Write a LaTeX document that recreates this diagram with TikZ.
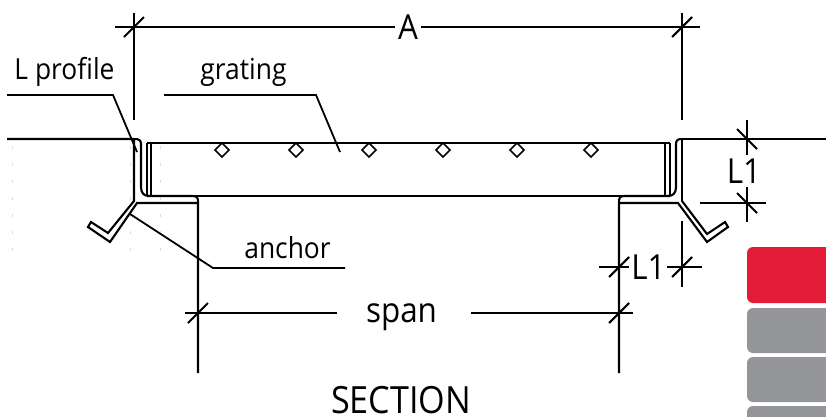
\documentclass[tikz,border=0pt]{standalone}
\usepackage{fontspec}
\setmainfont[FakeStretch=0.91]{Open Sans}
\usetikzlibrary{positioning,calc}
\definecolor{tabred}{HTML}{E31B37}
\definecolor{tabgray}{HTML}{939598}
\tikzset{main line/.style={line width=2.1pt,line join=miter},
  dim line/.style={line width=2.1pt},
  lead line/.style={line width=1.8pt,line join=miter},
  thin mark/.style={line width=0.8pt,black!14,dash pattern=on 3pt off 14pt},
  lbl/.style={inner sep=0pt,anchor=base,font=\fontsize{29}{32}\selectfont},
  dim lbl/.style={inner sep=0pt,anchor=base,font=\fontsize{34.5}{38}\selectfont},
  tab/.style={draw=none,rounded corners=6pt}}
\newcommand{\dimtick}[1]{\draw[dim line] ($(#1)+(-10,10)$) -- ($(#1)+(10,-10)$);}
\begin{document}
\begin{tikzpicture}[x=1pt,y=-1pt]
      \useasboundingbox (0,0) rectangle (826,416);
      \clip (0,0) rectangle (826,416);
      % faint marks
      \foreach \x in {12,130,160}
        \draw[thin mark] (\x,146) -- (\x,262);
      % side tabs
      \fill[tabred,tab] (747,247) rectangle (846,303);
      \fill[tabgray,tab] (747,308) rectangle (846,353);
      \fill[tabgray,tab] (747,357) rectangle (846,402);
      \fill[tabgray,tab] (747,406) rectangle (846,450);
      % labels
      \node[dim lbl] (a) at (408,39) {A};
      \node[lbl] (lprofile) at (64.5,79) {L profile};
      \node[lbl] (grating) at (243.5,79) {grating};
      \node[lbl] (anchor) at (287.5,258) {anchor};
      \node[dim lbl] (l1r) at (744,183) {L1};
      \node[dim lbl] (l1b) at (648.5,279) {L1};
      \node[dim lbl] (span) at (401.5,322) {span};
      \node[dim lbl,font=\fontsize{37.5}{40}\selectfont] (section) at (401,413) {SECTION};
      % grating
      \draw[main line] (147,143) -- (670,143);
      \draw[main line] (147,196) -- (670,196);
      \foreach \x in {147,151,665,670}
        \draw[main line] (\x,143) -- (\x,196);
      \foreach \x in {222,296,369,443,517,591}
        \draw[line width=1.6pt] (\x-7,150) -- (\x,143) -- (\x+7,150) -- (\x,157) -- cycle;
      % left profile
      \draw[main line] (7,139) -- (134,139) .. controls (139,139) and (141,140) .. (141,144)
        -- (141,187) .. controls (141,193) and (144,196) .. (149,196);
      \draw[main line] (134,139) -- (134,201) -- (108,233) -- (91,222) -- (88,227) -- (110,242) -- (137,203) -- (197,203);
      \draw[main line] (147,196) -- (192,196) .. controls (196,196) and (198,197) .. (198,201) -- (198,373);
      % right profile
      \draw[main line] (826,139) -- (682,139) -- (682,202);
      \draw[main line] (682,139) .. controls (678,139) and (676,140) .. (676,144)
        -- (676,187) .. controls (676,193) and (673,196) .. (668,196);
      \draw[main line] (619,203) -- (678,203) -- (707,242) -- (728,227) -- (725,222) -- (707,234) -- (682,201);
      \draw[main line] (670,196) -- (625,196) .. controls (621,196) and (619,197) .. (619,201) -- (619,373);
      % leaders
      \coordinate (lpa) at (7,95);
      \coordinate (lpb) at (113,95);
      \coordinate (lpc) at (137,152);
      \draw[lead line] (lpa) -- (lpb) -- (lpc);
      \coordinate (gra) at (164,95);
      \coordinate (grb) at (316,95);
      \coordinate (grc) at (340,152);
      \draw[lead line] (gra) -- (grb) -- (grc);
      \coordinate (ana) at (130,214);
      \coordinate (anb) at (213,268);
      \coordinate (anc) at (345,268);
      \draw[lead line] (ana) -- (anb) -- (anc);
      % dimension A
      \coordinate (al) at (134,27);
      \coordinate (ar) at (682,27);
      \draw[dim line] (115,27) -- (al) -- (395,27);
      \draw[dim line] (421,27) -- (ar) -- (700,27);
      \draw[dim line] (134,13) -- (134,120);
      \draw[dim line] (682,13) -- (682,120);
      \dimtick{al} \dimtick{ar}
      % dimension L1 right
      \coordinate (rt) at (747,139);
      \coordinate (rb) at (747,203);
      \draw[dim line] (747,120) -- (rt) -- (747,155);
      \draw[dim line] (747,187) -- (rb) -- (747,222);
      \draw[dim line] (700,203) -- (rb) -- (766,203);
      \draw[dim line] ($(rt)+(-10,-10)$) -- ($(rt)+(10,10)$);
      \draw[dim line] ($(rb)+(-10,-10)$) -- ($(rb)+(10,10)$);
      % dimension L1 bottom
      \coordinate (bl) at (619,267);
      \coordinate (br) at (682,267);
      \draw[dim line] (599,267) -- (bl) -- (629,267);
      \draw[dim line] (667,267) -- (br) -- (702,267);
      \draw[dim line] (682,221) -- (682,287);
      \dimtick{bl} \dimtick{br}
      % dimension span
      \coordinate (sl) at (198,313);
      \coordinate (sr) at (619,313);
      \draw[dim line] (185,313) -- (sl) -- (337,313);
      \draw[dim line] (471,313) -- (sr) -- (633,313);
      \dimtick{sl} \dimtick{sr}
    \end{tikzpicture}
\end{document}
